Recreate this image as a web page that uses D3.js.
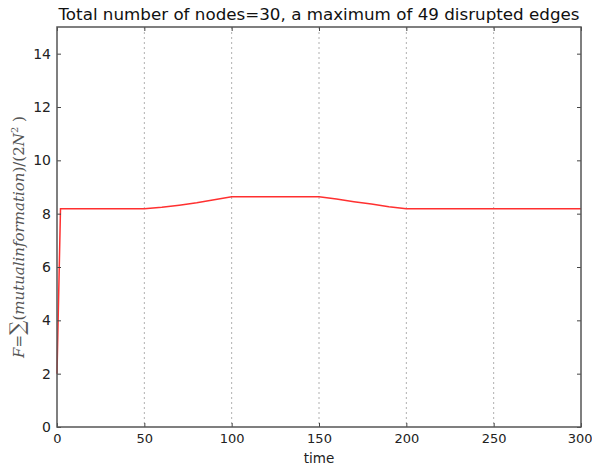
<!DOCTYPE html>
<html>
<head>
<meta charset="utf-8">
<script src="https://cdn.jsdelivr.net/npm/d3@7"></script>
<style>
  body { margin: 0; background: #fff; }
  svg { display: block; font-family: "DejaVu Sans", sans-serif; }
</style>
</head>
<body>
<svg id="chart" width="592" height="469"></svg>
<script>
// values
var times  = [0, 2, 50, 60, 70, 80, 90, 100, 150, 160, 170, 180, 190, 200, 300]
var fValue = [2.0, 8.18, 8.18, 8.24, 8.32, 8.41, 8.52, 8.63, 8.63, 8.55, 8.45, 8.36, 8.26, 8.18, 8.18]
var xTicks = [0, 50, 100, 150, 200, 250, 300]
var yTicks = [0, 2, 4, 6, 8, 10, 12, 14]
var gridX  = [50, 100, 150, 200, 250]

const dims = {
    width: 592,
    height: 469,
    margin_left: 57,
    margin_right: 11,
    margin_top: 27,
    margin_bottom: 42
}

var svg = d3.select("#chart")
var x0 = dims.margin_left, x1 = dims.width - dims.margin_right
var y0 = dims.margin_top, y1 = dims.height - dims.margin_bottom

var xScale = d3.scaleLinear().domain([0, 300]).range([x0, x1])
var yScale = d3.scaleLinear().domain([0, 15]).range([y1, y0])

// dotted vertical grid
svg.selectAll(".gridx").data(gridX).join("line")
    .attr("x1", d => xScale(d)).attr("x2", d => xScale(d))
    .attr("y1", y0).attr("y2", y1)
    .attr("stroke", "#b0b0b0").attr("stroke-width", 1)
    .attr("stroke-dasharray", "2,3")

// the curve
var line = d3.line()
    .x((d, i) => xScale(times[i]))
    .y(d => yScale(d))
svg.append("path")
    .datum(fValue)
    .attr("d", line)
    .attr("fill", "none")
    .attr("stroke", "#ff3030")
    .attr("stroke-width", 1.5)

// axes, ticks pointing inwards, on all four sides
function styleAxis(g){
    g.select(".domain").remove()
    g.selectAll("line").attr("stroke", "#444")
    g.selectAll("text").attr("font-size", 13).attr("fill", "#222")
        .attr("font-family", "DejaVu Sans, sans-serif")
}
var xAxis = svg.append("g")
    .attr("transform", "translate(0," + y1 + ")")
    .call(d3.axisBottom(xScale).tickValues(xTicks).tickSizeInner(-4).tickPadding(7).tickFormat(d3.format("d")))
styleAxis(xAxis)
// keep "300" inside the window like the reference
xAxis.selectAll("text").filter(d => d == 300).attr("text-anchor", "end").attr("x", 11)
var xAxisTop = svg.append("g")
    .attr("transform", "translate(0," + y0 + ")")
    .call(d3.axisTop(xScale).tickValues(xTicks).tickSizeInner(-4).tickFormat(""))
styleAxis(xAxisTop)
var yAxis = svg.append("g")
    .attr("transform", "translate(" + x0 + ",0)")
    .call(d3.axisLeft(yScale).tickValues(yTicks).tickSizeInner(-4).tickPadding(6).tickFormat(d3.format("d")))
styleAxis(yAxis)
yAxis.selectAll("text").attr("font-size", 14)
var yAxisRight = svg.append("g")
    .attr("transform", "translate(" + x1 + ",0)")
    .call(d3.axisRight(yScale).tickValues(yTicks).tickSizeInner(-4).tickFormat(""))
styleAxis(yAxisRight)

// frame
svg.append("rect")
    .attr("x", x0).attr("y", y0)
    .attr("width", x1 - x0).attr("height", y1 - y0)
    .attr("fill", "none").attr("stroke", "#555").attr("stroke-width", 1.5)

// title and labels
svg.append("text")
    .attr("x", (x0 + x1) / 2).attr("y", 20)
    .attr("text-anchor", "middle")
    .attr("font-size", 15.5).attr("fill", "#111")
    .attr("textLength", 521).attr("lengthAdjust", "spacingAndGlyphs")
    .text("Total number of nodes=30, a maximum of 49 disrupted edges")

svg.append("text")
    .attr("x", (x0 + x1) / 2).attr("y", 463)
    .attr("text-anchor", "middle")
    .attr("font-size", 13.5).attr("fill", "#222")
    .text("time")

var ylab = svg.append("text")
    .attr("transform", "translate(24," + ((y0 + y1) / 2 + 10) + ") rotate(-90)")
    .attr("text-anchor", "middle")
    .attr("font-family", "DejaVu Serif, serif")
    .attr("font-size", 15).attr("fill", "#555")
ylab.append("tspan").attr("font-style", "italic").text("F")
ylab.append("tspan").text("=")
ylab.append("tspan").attr("font-size", 20).text("∑")
ylab.append("tspan").text("(")
ylab.append("tspan").attr("font-style", "italic").text("mutualinformation")
ylab.append("tspan").text(")/(2")
ylab.append("tspan").attr("font-style", "italic").text("N")
ylab.append("tspan").attr("font-size", 10).attr("dy", -6).text("2")
ylab.append("tspan").attr("dy", 6).text(" )")
</script>
</body>
</html>
